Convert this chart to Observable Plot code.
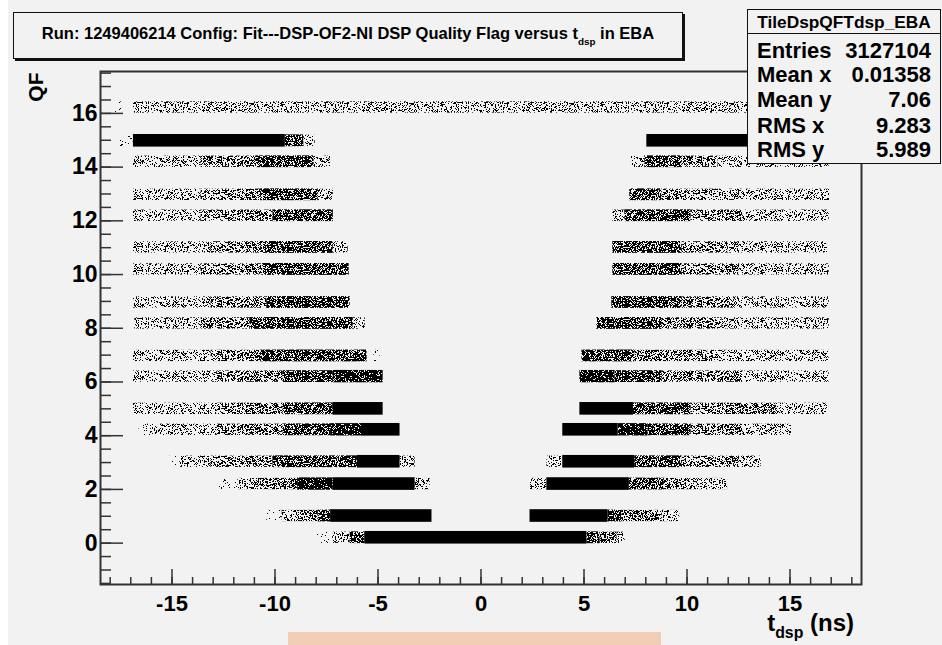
<!DOCTYPE html>
<html>
<head>
<meta charset="utf-8">
<script src="https://cdn.jsdelivr.net/npm/d3@7"></script>
<script src="https://cdn.jsdelivr.net/npm/@observablehq/plot@0.6"></script>
<style>
  body { margin: 0; background: #f2f2f2; }
  #wrap { position: relative; width: 942px; height: 645px; overflow: hidden; background: #f2f2f2;
          font-family: "Liberation Sans", Arial, Helvetica, sans-serif; font-weight: bold; color: #000; }
  #strip { position: absolute; left: 0; top: 0; width: 8px; height: 645px; background: #fff; }
  #chart { position: absolute; left: 0; top: 0; }
  #title { position: absolute; left: 13px; top: 12px; width: 668px; height: 45px; border: 1px solid #111;
           box-shadow: 2px 2px 0 #111; background: #f2f2f2; font-size: 16.5px; text-align: center;
           line-height: 41px; white-space: nowrap; }
  #title sub { font-size: 0.6em; vertical-align: -0.6em; }
  #stats { position: absolute; left: 747px; top: 9px; width: 192px; height: 153px; border: 1px solid #111;
           background: #f2f2f2; }
  #stats .hd { position: absolute; left: 0; top: 0; width: 192px; height: 23px; border-bottom: 1px solid #111;
               font-size: 17.3px; line-height: 24px; text-align: center; }
  #stats .row { position: absolute; left: 9px; width: 174px; height: 22px; font-size: 22px; line-height: 22px; }
  #stats .row .v { position: absolute; right: 0; top: 0; }
  #xtitle { position: absolute; right: 88px; top: 612px; font-size: 24px; line-height: 22px; white-space: nowrap; }
  #xtitle sub { font-size: 0.66em; vertical-align: -0.45em; }
  #peach { position: absolute; left: 288px; top: 632px; width: 373px; height: 13px; background: #f1cdb3; }
</style>
</head>
<body>
<div id="wrap">
  <div id="strip"></div>
  <div id="chart"></div>
  <div id="title">Run: 1249406214 Config: Fit---DSP-OF2-NI DSP Quality Flag versus t<sub>dsp</sub> in EBA</div>
  <div id="stats"></div>
  <div id="xtitle">t<sub>dsp</sub> (ns)</div>
  <div id="peach"></div>
</div>
<script>
// ---------- data ----------
const histName = "TileDspQFTdsp_EBA";
const statLabels = ["Entries", "Mean x", "Mean y", "RMS x", "RMS y"];
const statValues = ["3127104", "0.01358", "7.06", "9.283", "5.989"];

const xMajor = [-15, -10, -5, 0, 5, 10, 15];
const xMinor = d3.range(-18, 19, 1);
const yMajor = [0, 2, 4, 6, 8, 10, 12, 14, 16];
const yMinor = d3.range(-1.5, 17.6, 0.5);

// each segment: [QF band centre, t_dsp from, t_dsp to]
const traceSegs = [
  [16.22, -17.75, -17.45], [14.98, -17.6, -16.9], [6.97, -5.2, -4.9], [4.22, -16.6, -16.04],
  [3.03, -15.1, -14.6], [2.2, -12.7, -11.8], [1.01, -10.4, -9.65], [0.2, -7.95, -7.2]
];
const sparseSegs = [
  [16.22, -16.87, 16.9],
  [14.98, -8.6, -8.05],
  [14.2, -16.87, -13.6], [14.2, -8.1, -7.3], [14.2, 7.3, 7.95], [14.2, 11.5, 16.9],
  [12.97, -16.87, -13.6], [12.97, -7.9, -7.17], [12.97, 11.0, 16.92],
  [12.19, -16.87, -13.6], [12.19, 6.4, 6.98], [12.19, 12.7, 16.9],
  [11.01, -16.87, -13.1], [11.01, -7.17, -6.45], [11.01, 11.97, 16.82],
  [10.19, -16.87, -13.6], [10.19, 12.3, 16.9],
  [8.96, -16.87, -13.1], [8.96, 12.3, 16.9],
  [8.18, -16.8, -13.6], [8.18, -6.2, -5.62], [8.18, 11.7, 16.9],
  [6.97, -16.87, -13.1], [6.97, 11.0, 16.9],
  [6.2, -16.87, -12.8], [6.2, 12.7, 16.9],
  [5.0, -16.87, -12.8], [5.0, 14.3, 16.82],
  [4.22, -16.04, -12.8], [4.22, 12.7, 15.07],
  [3.03, -14.6, -13.1], [3.03, -3.93, -3.2], [3.03, 3.2, 3.97], [3.03, 12.3, 13.6],
  [2.2, -11.8, -10.7], [2.2, -3.2, -2.47], [2.2, 2.4, 3.2], [2.2, 10.5, 11.97],
  [1.01, -9.65, -8.8], [1.01, 8.77, 9.65],
  [0.2, -7.2, -6.35], [0.2, 6.6, 7.0]
];
const mediumSegs = [
  [14.2, -13.6, -10.9], [14.2, 9.74, 11.5],
  [12.97, -13.6, -10.7], [12.97, 8.77, 11.0],
  [12.19, -13.6, -10.1], [12.19, 10.2, 12.7],
  [11.01, -13.1, -10.7], [11.01, 9.74, 11.97],
  [10.19, -13.6, -10.6], [10.19, 9.74, 12.3],
  [8.96, -13.1, -10.4], [8.96, 9.74, 12.3],
  [8.18, -13.6, -11.2], [8.18, 8.77, 11.7],
  [6.97, -13.1, -10.7], [6.97, 7.46, 11.0],
  [6.2, -12.8, -9.6], [6.2, 8.77, 12.7],
  [5.0, -12.8, -9.6], [5.0, 10.2, 14.3],
  [4.22, -12.8, -9.6], [4.22, 10.2, 12.7],
  [3.03, -13.1, -10.1], [3.03, 9.74, 12.3],
  [2.2, -10.7, -8.9], [2.2, 8.9, 10.5],
  [1.01, -8.8, -7.9], [1.01, 6.83, 8.77],
  [0.2, 5.78, 6.6]
];
const heavySegs = [
  [14.98, -9.5, -8.6],
  [14.2, -10.9, -8.1], [14.2, 7.95, 9.74],
  [12.97, -10.7, -7.9], [12.97, 7.22, 8.77],
  [12.19, -10.1, -7.17], [12.19, 6.98, 10.2],
  [11.01, -10.7, -7.17], [11.01, 6.4, 9.74],
  [10.19, -10.6, -6.4], [10.19, 6.4, 9.74],
  [8.96, -10.4, -6.35], [8.96, 6.35, 9.74],
  [8.18, -11.2, -6.2], [8.18, 5.62, 8.77],
  [6.97, -10.7, -5.53], [6.97, 4.9, 7.46],
  [6.2, -9.6, -7.17], [6.2, 6.5, 8.77],
  [5.0, -9.6, -7.17], [5.0, 7.4, 10.2],
  [4.22, -9.6, -7.3], [4.22, 8.1, 10.2],
  [3.03, -10.1, -6.0], [3.03, 7.46, 9.74],
  [2.2, 7.2, 8.9],
  [1.01, -7.9, -7.3], [1.01, 6.16, 6.83],
  [0.2, -6.35, -5.62], [0.2, 5.14, 5.78]
];
const vheavySegs = [
  [6.2, -7.17, -4.75], [6.2, 4.8, 6.5],
  [4.22, -7.3, -5.8], [4.22, 6.65, 8.1],
  [2.2, -8.9, -7.17]
];
const solidSegs = [
  [14.98, -16.87, -9.5], [14.98, 8.05, 16.9],
  [5.0, -7.17, -4.75], [5.0, 4.8, 7.4],
  [4.22, -5.8, -3.93], [4.22, 3.97, 6.65],
  [3.03, -6.0, -3.93], [3.03, 3.97, 7.46],
  [2.2, -7.17, -3.2], [2.2, 3.2, 7.2],
  [1.01, -7.3, -2.38], [1.01, 2.38, 6.16],
  [0.2, -5.62, 5.14]
];

// ---------- chart ----------
const fam = "Liberation Sans, Arial, Helvetica, sans-serif";
const bandRect = (segs, fill, half) => Plot.rect(segs, {
  x1: d => d[1], x2: d => d[2], y1: d => d[0] - half, y2: d => d[0] + half, fill
});

const chart = Plot.plot({
  width: 942, height: 645,
  marginLeft: 100, marginRight: 81, marginTop: 71, marginBottom: 61,
  style: { background: "transparent", fontFamily: fam, color: "#000" },
  x: { domain: [-18.47, 18.47] },
  y: { domain: [-1.54, 17.56] },
  marks: [
    bandRect(traceSegs, "url(#speck-trace)", 0.21),
    bandRect(sparseSegs, "url(#speck-sparse)", 0.21),
    bandRect(mediumSegs, "url(#speck-medium)", 0.21),
    bandRect(heavySegs, "url(#speck-heavy)", 0.22),
    bandRect(vheavySegs, "url(#speck-vheavy)", 0.23),
    bandRect(solidSegs, "black", 0.235),
    Plot.frame({ stroke: "#333", strokeWidth: 2 }),
    Plot.axisX(xMinor, { tickSize: -7, tickFormat: () => "", stroke: "#333", strokeWidth: 1.5, label: null }),
    Plot.axisX(xMajor, { tickSize: -15, tickFormat: () => "", stroke: "#333", strokeWidth: 1.5, label: null }),
    Plot.axisX(xMajor, { tickSize: 0, tickPadding: 11, tickFormat: d => String(d), fontSize: 22,
                         fontWeight: "bold", fill: "#000", label: null }),
    Plot.axisY(yMinor, { tickSize: -11, tickFormat: () => "", stroke: "#333", strokeWidth: 1.5, label: null }),
    Plot.axisY(yMajor, { tickSize: -23, tickFormat: () => "", stroke: "#333", strokeWidth: 1.5, label: null }),
    Plot.axisY(yMajor, { tickSize: 0, tickPadding: 3, tickFormat: d => String(d), fontSize: 23,
                         fontWeight: "bold", fill: "#000", label: null }),
    Plot.text(["QF"], { frameAnchor: "top-left", dx: -64, dy: 1, rotate: -90, textAnchor: "end",
                        lineAnchor: "middle", fontSize: 21, fontWeight: "bold", fill: "#000" })
  ]
});

// speckle textures (deterministic hash, a fill style only)
const ns = "http://www.w3.org/2000/svg";
const defs = document.createElementNS(ns, "defs");
function hash(i, j, s) {
  let n = (i * 374761393 + j * 668265263 + s * 1442695041) | 0;
  n = Math.imul(n ^ (n >>> 13), 1274126177);
  n = n ^ (n >>> 16);
  return (n >>> 0) / 4294967296;
}
const textures = [["speck-trace", 0.06, 1], ["speck-sparse", 0.28, 2], ["speck-medium", 0.46, 3],
                  ["speck-heavy", 0.68, 4], ["speck-vheavy", 0.86, 5]];
const TW = 160, TH = 24;
for (const [id, p, s] of textures) {
  const pat = document.createElementNS(ns, "pattern");
  pat.setAttribute("id", id);
  pat.setAttribute("patternUnits", "userSpaceOnUse");
  pat.setAttribute("width", TW);
  pat.setAttribute("height", TH);
  let d = "";
  for (let i = 0; i < TW; i++) for (let j = 0; j < TH; j++) {
    if (hash(i, j, s) < p) d += `M${i},${j}h1v1h-1z`;
  }
  const path = document.createElementNS(ns, "path");
  path.setAttribute("d", d);
  path.setAttribute("fill", "#000");
  pat.appendChild(path);
  defs.appendChild(pat);
}
chart.insertBefore(defs, chart.firstChild);
document.getElementById("chart").appendChild(chart);

// stats box
const stats = document.getElementById("stats");
const hd = document.createElement("div");
hd.className = "hd"; hd.textContent = histName; stats.appendChild(hd);
const rowTop = [30, 54, 79, 105, 129];
statLabels.forEach((lab, i) => {
  const r = document.createElement("div");
  r.className = "row"; r.style.top = rowTop[i] + "px";
  r.innerHTML = `<span>${lab}</span><span class="v">${statValues[i]}</span>`;
  stats.appendChild(r);
});
</script>
</body>
</html>
